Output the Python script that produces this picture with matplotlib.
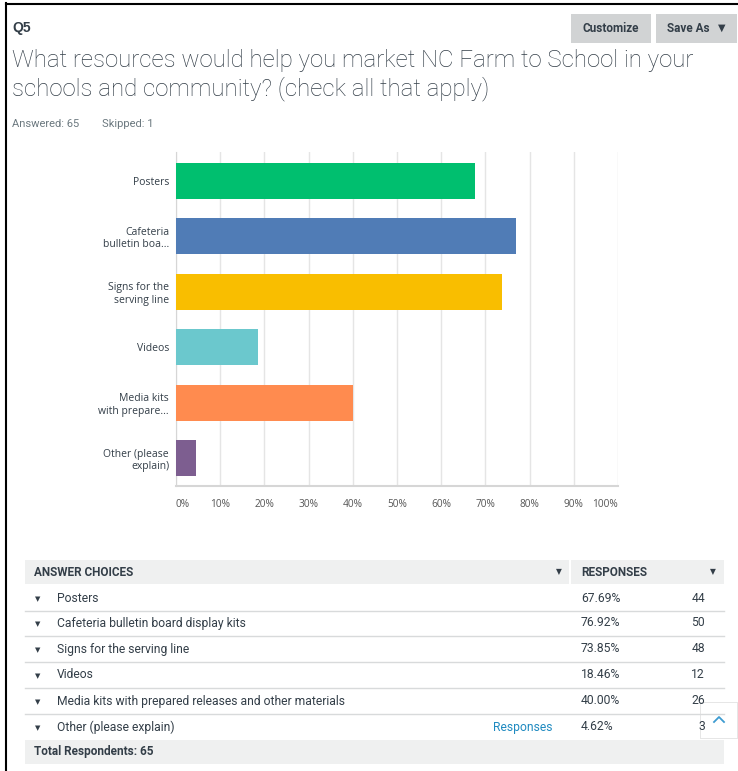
import matplotlib.pyplot as plt
from matplotlib.patches import Rectangle
from matplotlib.lines import Line2D

# Survey data (Q5)
bar_labels = ["Posters", "Cafeteria\nbulletin boa...", "Signs for the\nserving line",
              "Videos", "Media kits\nwith prepare...", "Other (please\nexplain)"]
choices = ["Posters", "Cafeteria bulletin board display kits", "Signs for the serving line",
           "Videos", "Media kits with prepared releases and other materials",
           "Other (please explain)"]
percent = [67.69, 76.92, 73.85, 18.46, 40.00, 4.62]
counts = [44, 50, 48, 12, 26, 3]
colors = ["#00BF6F", "#507CB6", "#F9BE00", "#6BC8CD", "#FF8B4F", "#7D5E90"]
xticks = [0, 10, 20, 30, 40, 50, 60, 70, 80, 90, 100]
answered = 65
skipped = 1

plt.rcParams['font.family'] = ['Roboto', 'DejaVu Sans']

W, H = 738, 771
fig = plt.figure(figsize=(W / 100, H / 100), dpi=100)
fig.patch.set_facecolor("white")


def px(x, y):
    return x / W, 1 - y / H


def rect(x0, y0, x1, y1, color, **kw):
    fig.add_artist(Rectangle(px(x0, y1), (x1 - x0) / W, (y1 - y0) / H,
                             transform=fig.transFigure, facecolor=color,
                             edgecolor=kw.pop("edgecolor", "none"), **kw))


def hline(x0, x1, y, color, lw=1.0):
    fig.add_artist(Line2D([x0 / W, x1 / W], [1 - y / H, 1 - y / H],
                          transform=fig.transFigure, color=color, lw=lw))


dark = "#333e48"
sans = ['Roboto', 'DejaVu Sans']

# frame of the screenshot
fig.add_artist(Line2D([6.5 / W, 6.5 / W], [1 - 3 / H, 0], transform=fig.transFigure,
                      color="black", lw=1.5))
hline(6, 738, 3.5, "black", lw=1.5)

# header
fig.text(*px(12, 28), "Q5", fontsize=10, fontweight="bold", color=dark, va="center",
         family=['Liberation Sans', 'DejaVu Sans'])
rect(571, 14, 651, 43, "#d1d3d4")
rect(656, 14, 737, 43, "#d1d3d4")
fig.text(*px(611, 29), "Customize", fontsize=8.5, fontweight="bold", color=dark,
         ha="center", va="center", family=sans)
fig.text(*px(688, 29), "Save As", fontsize=8.5, fontweight="bold", color=dark,
         ha="center", va="center", family=sans)
fig.text(*px(722, 28), "\u25bc", fontsize=7, color=dark, ha="center", va="center",
         family=['DejaVu Sans'])

fig.text(*px(12, 61), "What resources would help you market NC Farm to School in your",
         fontsize=17.3, color=dark, va="center", fontweight="light")
fig.text(*px(12, 89), "schools and community? (check all that apply)",
         fontsize=17.3, color=dark, va="center", fontweight="light")
fig.text(*px(12, 124), f"Answered: {answered}", fontsize=8, color="#6b787f",
         va="center", family=sans)
fig.text(*px(102, 124), f"Skipped: {skipped}", fontsize=8, color="#6b787f",
         va="center", family=sans)

# bar chart
ax = fig.add_axes([176 / W, 1 - 486 / H, 442 / W, 334 / H])
ax.barh(range(len(percent)), percent, height=0.65, color=colors, zorder=3)
ax.set_xlim(0, 100)
ax.set_ylim(5.5, -0.52)
ax.set_xticks(xticks)
ax.set_xticklabels([f"{t}%" for t in xticks])
ax.set_yticks(range(len(bar_labels)))
ax.set_yticklabels(bar_labels)
ax.grid(axis="x", color="#e5e5e5", lw=1, zorder=0)
for s in ["top", "right"]:
    ax.spines[s].set_visible(False)
ax.spines["left"].set_color("#d6d6d6")
ax.spines["bottom"].set_color("#d6d6d6")
ax.spines["bottom"].set_linewidth(1.5)
ax.tick_params(axis="x", length=0, pad=9.5, labelsize=7.3, labelcolor="#555555")
ax.tick_params(axis="y", length=0, pad=5, labelsize=7.5, labelcolor=dark)
for lab in ax.get_xticklabels() + ax.get_yticklabels():
    lab.set_family(['Open Sans', 'DejaVu Sans'])
xl = ax.get_xticklabels()
xl[0].set_horizontalalignment("left")
xl[-1].set_horizontalalignment("right")

# table
rect(25, 560, 724, 584, "#eff0f0")
fig.add_artist(Line2D([570 / W, 570 / W], [1 - 560 / H, 1 - 584 / H],
                      transform=fig.transFigure, color="white", lw=1.5))
fig.text(*px(34, 572), "ANSWER CHOICES", fontsize=8.5, fontweight="bold", color=dark,
         va="center", family=sans)
fig.text(*px(559, 572), "\u25bc", fontsize=5.5, color=dark, ha="center", va="center",
         family=['DejaVu Sans'])
fig.text(*px(581, 572), "RESPONSES", fontsize=8.5, fontweight="bold", color=dark,
         va="center", family=sans)
fig.text(*px(713, 572), "\u25bc", fontsize=5.5, color=dark, ha="center", va="center",
         family=['DejaVu Sans'])

row_y = [598, 623, 649, 675, 701, 727]
for i, (c, p, n) in enumerate(zip(choices, percent, counts)):
    y = row_y[i]
    fig.text(*px(38, y + 1), "\u25bc", fontsize=5, color=dark, ha="center", va="center",
             family=['DejaVu Sans'])
    fig.text(*px(57, y), c, fontsize=8.7, color=dark, va="center", family=sans)
    fig.text(*px(581, y), f"{p:.2f}%", fontsize=8.7, color=dark, va="center", family=sans)
    fig.text(*px(705, y), str(n), fontsize=8.7, color=dark, ha="right", va="center",
             family=sans)
    if i < len(choices) - 1:
        hline(25, 724, y + 13, "#d8dadb", lw=1)
fig.text(*px(552, row_y[-1]), "Responses", fontsize=8.7, color="#1f8ac0", ha="right",
         va="center", family=sans)

rect(25, 740, 724, 764, "#eff0f0")
fig.text(*px(34, 752), f"Total Respondents: {answered}", fontsize=8.5, fontweight="bold",
         color=dark, va="center", family=sans)

# scroll-to-top button
rect(700, 702, 738, 739, "#e6e6e6")
rect(701, 703, 737, 738, "white")
fig.add_artist(Line2D([714 / W, 719 / W, 724 / W],
                      [1 - 722 / H, 1 - 717 / H, 1 - 722 / H],
                      transform=fig.transFigure, color="#3d9bd0", lw=1.3))

fig.savefig("out.png", dpi=100)
